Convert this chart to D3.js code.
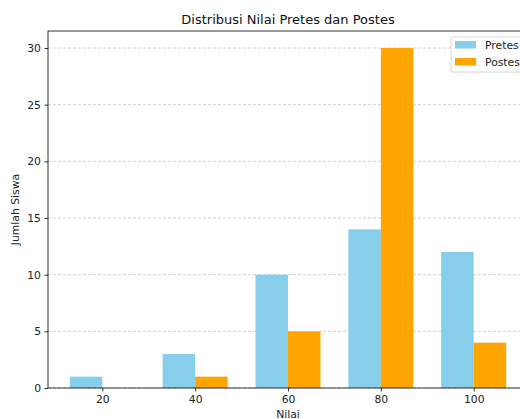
<!DOCTYPE html>
<html><head><meta charset="utf-8">
<script src="https://cdn.jsdelivr.net/npm/d3@7"></script>
<style>body{margin:0;background:#fff}svg{display:block;font-family:"DejaVu Sans",sans-serif}</style>
</head><body>
<script>
const categories = ["20","40","60","80","100"];
const pretes = [1,3,10,14,12];
const postes = [0,1,5,30,4];
const yTicks = [0,5,10,15,20,25,30];
const seriesNames = ["Pretes","Postes"];
const colors = ["#87CEEB","#FFA500"];

const W=520,H=419;
const m={left:48,top:31,right:528,bottom:388};
const svg=d3.select("body").append("svg").attr("width",W).attr("height",H);

const barW=0.35;
const x=d3.scaleLinear().domain([-0.585,4.585]).range([m.left,m.right]);
const y=d3.scaleLinear().domain([0,31.5]).range([m.bottom,m.top]);

// grid
svg.append("g").selectAll("line").data(yTicks).join("line")
  .attr("x1",m.left).attr("x2",m.right)
  .attr("y1",d=>y(d)).attr("y2",d=>y(d))
  .attr("stroke","#b0b0b0").attr("stroke-width",0.8).attr("stroke-dasharray","3,2").attr("opacity",0.7);

// bars
const g=svg.append("g");
g.selectAll("rect.pre").data(pretes).join("rect")
  .attr("x",(d,i)=>x(i-barW)).attr("width",(d,i)=>x(i)-x(i-barW))
  .attr("y",d=>y(d)).attr("height",d=>y(0)-y(d)).attr("fill",colors[0]);
g.selectAll("rect.post").data(postes).join("rect")
  .attr("x",(d,i)=>x(i)).attr("width",(d,i)=>x(i+barW)-x(i))
  .attr("y",d=>y(d)).attr("height",d=>y(0)-y(d)).attr("fill",colors[1]);

// axes
const fs=10.8;
const xa=svg.append("g").attr("transform",`translate(0,${m.bottom})`)
  .call(d3.axisBottom(x).tickValues(d3.range(categories.length)).tickFormat(i=>categories[i]).tickSize(3.5).tickPadding(3.5).tickSizeOuter(0));
const ya=svg.append("g").attr("transform",`translate(${m.left},0)`)
  .call(d3.axisLeft(y).tickValues(yTicks).tickSize(3.5).tickPadding(3.5).tickSizeOuter(0));
[xa,ya].forEach(a=>{a.selectAll("text").attr("font-size",fs).attr("fill","#222").attr("font-family","DejaVu Sans");
  a.selectAll("line").attr("stroke","#000").attr("stroke-width",0.8);a.select(".domain").remove();});

// spines
svg.append("rect").attr("x",m.left).attr("y",m.top).attr("width",m.right-m.left).attr("height",m.bottom-m.top)
  .attr("fill","none").attr("stroke","#000").attr("stroke-width",0.8);

// title & labels
svg.append("text").attr("x",(m.left+m.right)/2).attr("y",m.top-7).attr("text-anchor","middle")
  .attr("font-size",13).attr("fill","#111").text("Distribusi Nilai Pretes dan Postes");
svg.append("text").attr("x",(m.left+m.right)/2).attr("y",417.5).attr("text-anchor","middle")
  .attr("font-size",fs).attr("fill","#222").text("Nilai");
svg.append("text").attr("transform",`translate(19,${(m.top+m.bottom)/2}) rotate(-90)`).attr("text-anchor","middle")
  .attr("font-size",fs).attr("fill","#222").text("Jumlah Siswa");

// legend
const lg=svg.append("g").attr("transform","translate(451,37)");
lg.append("rect").attr("width",74).attr("height",35).attr("rx",2)
  .attr("fill","#fff").attr("fill-opacity",0.8).attr("stroke","#cccccc").attr("stroke-width",0.8);
seriesNames.forEach((n,i)=>{
  lg.append("rect").attr("x",4).attr("y",4+i*17).attr("width",21).attr("height",7.5).attr("fill",colors[i]);
  lg.append("text").attr("x",34).attr("y",12+i*17).attr("font-size",fs).attr("fill","#222").text(n);
});
</script>
</body></html>
